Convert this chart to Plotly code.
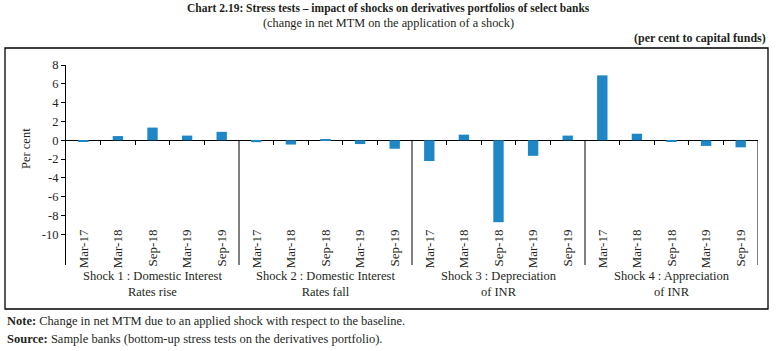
import plotly.graph_objects as go

periods = ["Mar-17", "Mar-18", "Sep-18", "Mar-19", "Sep-19"]
shocks = [
    "Shock 1 : Domestic Interest<br>Rates rise",
    "Shock 2 : Domestic Interest<br>Rates fall",
    "Shock 3 : Depreciation<br>of INR",
    "Shock 4 : Appreciation<br>of INR",
]
shock1 = [-0.1, 0.45, 1.35, 0.5, 0.9]
shock2 = [-0.2, -0.45, 0.05, -0.4, -0.9]
shock3 = [-2.2, 0.6, -8.7, -1.65, 0.5]
shock4 = [6.9, 0.7, -0.15, -0.6, -0.75]
y_ticks = [-10, -8, -6, -4, -2, 0, 2, 4, 6, 8]

series = [shock1, shock2, shock3, shock4]
n = len(periods)
xs, ys, labels = [], [], []
for g, vals in enumerate(series):
    for i, v in enumerate(vals):
        xs.append(g * n + i)
        ys.append(v)
        labels.append(periods[i])

ymax, ymin = 8, -13.25
FONT = "Liberation Serif"
TXT = "#231f20"
BAR = "#1f87c5"

fig = go.Figure()
fig.add_trace(go.Bar(x=xs, y=ys, width=0.3, marker=dict(color=BAR, line=dict(width=0)),
                     showlegend=False, hoverinfo="x+y"))
# invisible trace to activate xaxis2
fig.add_trace(go.Scatter(x=[xs[0]], y=[0], xaxis="x2", mode="markers",
                         marker=dict(opacity=0), showlegend=False, hoverinfo="skip"))

zero_pos = (0 - ymin) / (ymax - ymin)
boundaries = [g * n + i + 0.5 for g in range(len(series)) for i in range(n - 1)]

fig.update_layout(
    width=776, height=351,
    margin=dict(l=66, r=18, t=65, b=86),
    paper_bgcolor="white", plot_bgcolor="white",
    font=dict(family=FONT, size=12, color=TXT),
    xaxis=dict(range=[-0.5, len(xs) - 0.5], tickmode="array", tickvals=xs, ticktext=labels,
               tickangle=-90, ticks="", showline=False, showgrid=False, zeroline=False,
               ticklabelposition="outside", ticklabelstandoff=-39,
               tickfont=dict(size=13, family=FONT, color=TXT)),
    xaxis2=dict(overlaying="x", anchor="free", position=zero_pos, side="bottom",
                range=[-0.5, len(xs) - 0.5], tickmode="array", tickvals=boundaries,
                ticks="outside", ticklen=4, tickcolor="black", tickwidth=1,
                showticklabels=False, showline=False, showgrid=False, zeroline=False),
    yaxis=dict(range=[ymin, ymax], tickmode="array", tickvals=y_ticks,
               ticktext=[str(v) for v in y_ticks], ticks="outside", ticklen=4,
               tickcolor="black", showline=True, linecolor="black", linewidth=1,
               showgrid=False, zeroline=True, zerolinecolor="black", zerolinewidth=1,
               tickfont=dict(size=12.5, family=FONT, color=TXT)),
    bargap=0.7,
)

# group separators from zero line down to the bottom
for g in range(len(series)):
    xb = (g + 1) * n - 0.5
    fig.add_shape(type="line", xref="x", yref="y", x0=xb, x1=xb, y0=0, y1=ymin,
                  line=dict(color="black", width=1))

# group labels
for g, name in enumerate(shocks):
    fig.add_annotation(x=g * n + (n - 1) / 2, y=-0.0925, xref="x", yref="paper",
                       text=name, showarrow=False, yanchor="middle",
                       font=dict(size=12.5, family=FONT, color=TXT))

W, H = 692.0, 200.0
def px(xp):
    return (xp - 66) / W
def py(yp):
    return (265 - yp) / H

# outer frame
fig.add_shape(type="rect", xref="paper", yref="paper", x0=px(5), x1=px(768), y0=py(309), y1=py(48),
              line=dict(color="black", width=1.3), layer="below")

fig.add_annotation(x=px(388), y=py(9), xref="paper", yref="paper", showarrow=False,
                   text="<b>Chart 2.19: Stress tests – impact of shocks on derivatives portfolios of select banks</b>",
                   font=dict(size=11.5, family=FONT, color=TXT), xanchor="center", yanchor="middle")
fig.add_annotation(x=px(388), y=py(23), xref="paper", yref="paper", showarrow=False,
                   text="(change in net MTM on the application of a shock)",
                   font=dict(size=12.3, family=FONT, color=TXT), xanchor="center", yanchor="middle")
fig.add_annotation(x=px(768), y=py(38), xref="paper", yref="paper", showarrow=False,
                   text="<b>(per cent to capital funds)</b>",
                   font=dict(size=12, family=FONT, color=TXT), xanchor="right", yanchor="middle")
fig.add_annotation(x=px(26), y=py(149), xref="paper", yref="paper", showarrow=False,
                   text="Per cent", textangle=-90,
                   font=dict(size=12.5, family=FONT, color=TXT), xanchor="center", yanchor="middle")
fig.add_annotation(x=px(5), y=py(321), xref="paper", yref="paper", showarrow=False,
                   text="<b>Note:</b> Change in net MTM due to an applied shock with respect to the baseline.",
                   font=dict(size=12.5, family=FONT, color=TXT), xanchor="left", yanchor="middle")
fig.add_annotation(x=px(5), y=py(339), xref="paper", yref="paper", showarrow=False,
                   text="<b>Source:</b> Sample banks (bottom-up stress tests on the derivatives portfolio).",
                   font=dict(size=12.5, family=FONT, color=TXT), xanchor="left", yanchor="middle")

fig.write_html("out.html")
